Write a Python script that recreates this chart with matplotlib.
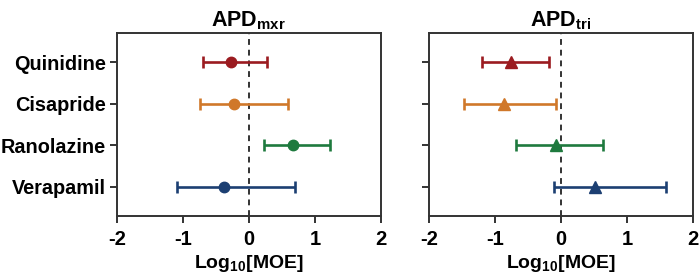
import matplotlib
matplotlib.use("Agg")
import matplotlib.pyplot as plt

drugs = ["Quinidine", "Cisapride", "Ranolazine", "Verapamil"]
colors = ["#9B1B20", "#D0782A", "#1E7A3E", "#1C3F72"]

mxr_center = [-0.27, -0.23, 0.67, -0.38]
mxr_low = [-0.70, -0.74, 0.23, -1.09]
mxr_high = [0.28, 0.59, 1.23, 0.70]

tri_center = [-0.76, -0.86, -0.07, 0.52]
tri_low = [-1.20, -1.47, -0.69, -0.11]
tri_high = [-0.18, -0.07, 0.64, 1.59]

xticks = [-2, -1, 0, 1, 2]

plt.rcParams['font.family'] = ['Liberation Sans', 'DejaVu Sans']
plt.rcParams['font.weight'] = 'bold'
plt.rcParams['mathtext.fontset'] = 'custom'
plt.rcParams['mathtext.rm'] = 'Liberation Sans:bold'
plt.rcParams['mathtext.bf'] = 'Liberation Sans:bold'
plt.rcParams['mathtext.it'] = 'Liberation Sans:bold'

fig = plt.figure(figsize=(7, 2.8), dpi=100)
ax1 = fig.add_axes([0.167, 0.229, 0.377, 0.653])
ax2 = fig.add_axes([0.613, 0.229, 0.377, 0.653])

def draw(ax, c, lo, hi, marker, title, show_labels):
    ypos = list(range(len(drugs)))
    for i, d in enumerate(drugs):
        ax.errorbar([c[i]], [ypos[i]], xerr=[[c[i] - lo[i]], [hi[i] - c[i]]],
                    fmt=marker, color=colors[i], ecolor=colors[i], elinewidth=1.9,
                    capsize=4.5, capthick=1.9, markersize=7.5 if marker == 'o' else 8.5,
                    zorder=3)
    ax.axvline(0, color="#333333", linestyle=(0, (3, 2.5)), linewidth=1.4, zorder=2)
    ax.set_xlim(-2, 2)
    ax.set_ylim(3.7, -0.7)
    ax.set_xticks(xticks)
    ax.set_xticklabels([str(t) for t in xticks], fontsize=14.5, fontweight='bold')
    ax.set_yticks(ypos)
    if show_labels:
        ax.set_yticklabels(drugs, fontsize=14.3, fontweight='bold')
    else:
        ax.set_yticklabels([])
    for s in ax.spines.values():
        s.set_color("#333333")
        s.set_linewidth(1.4)
    ax.tick_params(axis='x', direction='out', length=5, width=1.4, color="#333333", pad=5)
    ax.tick_params(axis='y', direction='out', length=5, width=1.4, color="#333333", pad=3)
    ax.set_xlabel(r"Log$_{\mathbf{10}}$[MOE]", fontsize=14, fontweight='bold', labelpad=3)
    ax.set_title(title, fontsize=15.5, fontweight='bold', pad=5)

draw(ax1, mxr_center, mxr_low, mxr_high, 'o', r"APD$_{\mathbf{mxr}}$", True)
draw(ax2, tri_center, tri_low, tri_high, '^', r"APD$_{\mathbf{tri}}$", False)

fig.savefig("out.png", dpi=100)
